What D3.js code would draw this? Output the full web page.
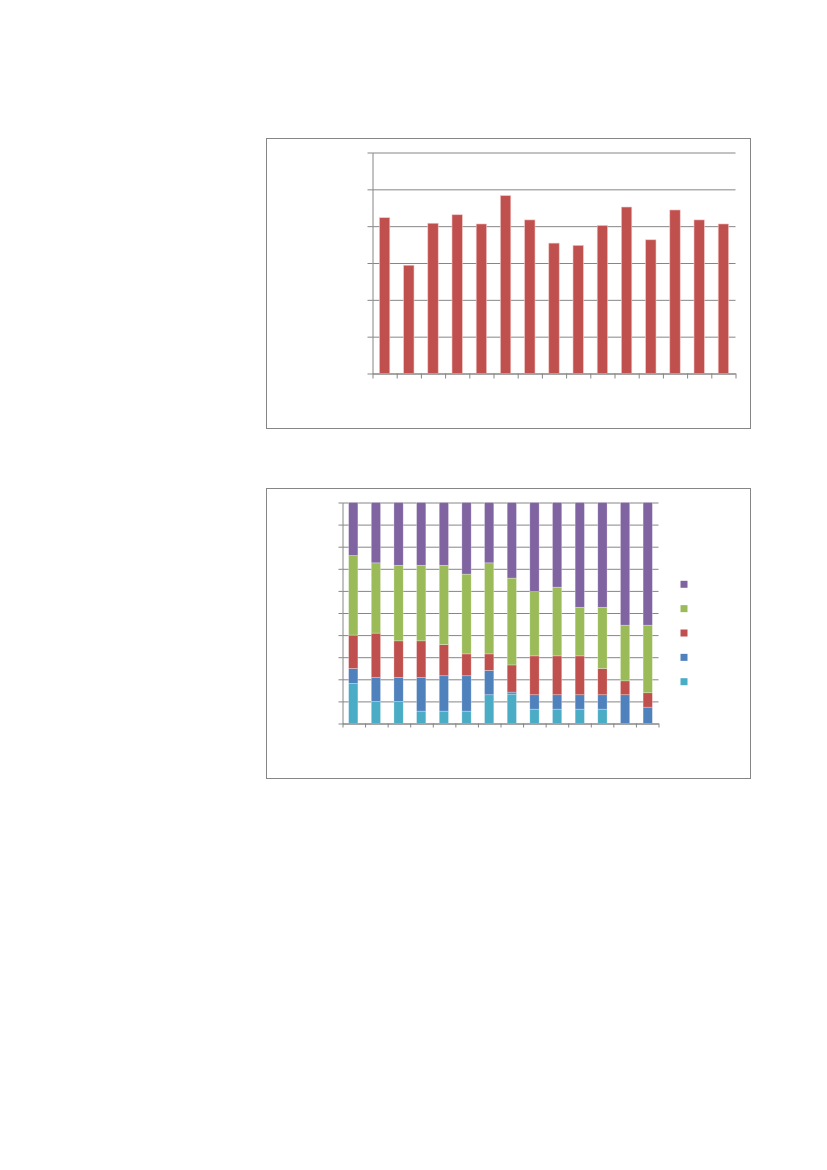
<!DOCTYPE html>
<html>
<head>
<meta charset="utf-8">
<script src="https://cdn.jsdelivr.net/npm/d3@7"></script>
<style>
  body { margin: 0; background: #fff; }
  svg { display: block; }
</style>
</head>
<body>
<div id="chart"></div>
<script>
// Chart 1: single series, 15 columns
const barCategories = d3.range(1, 16).map(String);
const barValues = [4.23, 2.94, 4.08, 4.31, 4.06, 4.83, 4.17, 3.54, 3.48, 4.02, 4.52, 3.63, 4.44, 4.17, 4.06];
const barTicks = [0, 1, 2, 3, 4, 5, 6];

// Chart 2: 100% stacked, 14 columns, bottom to top
const stackCategories = d3.range(1, 15).map(String);
const stackKeys = ["s1", "s2", "s3", "s4", "s5"];
const s1 = [18.1, 10.0, 10.0, 5.6, 5.6, 5.6, 13.0, 13.3, 6.5, 6.5, 6.5, 6.5, 0, 0];
const s2 = [6.8, 10.8, 10.8, 15.2, 16.0, 16.0, 11.0, 0.9, 6.5, 6.5, 6.5, 6.5, 13.0, 7.4];
const s3 = [15.1, 20.1, 16.6, 16.6, 14.1, 9.9, 7.5, 12.3, 17.6, 17.6, 17.6, 11.9, 6.3, 6.5];
const s4 = [36.0, 31.8, 34.2, 34.2, 35.9, 36.1, 41.2, 39.3, 29.1, 31.1, 22.0, 27.7, 25.2, 30.6];
const s5 = [24.0, 27.3, 28.4, 28.4, 28.4, 32.4, 27.3, 34.2, 40.3, 38.3, 47.4, 47.4, 55.5, 55.5];
const stackColors = ["#4BACC6", "#4F81BD", "#C0504D", "#9BBB59", "#8064A2"];

const width = 827, height = 1170;
const gridColor = "#868686";

const svg = d3.select("#chart").append("svg")
  .attr("width", width)
  .attr("height", height);

// outer chart frames
[[266.5, 138.5], [266.5, 488.5]].forEach(([fx, fy]) => {
  svg.append("rect")
    .attr("x", fx).attr("y", fy)
    .attr("width", 484).attr("height", 290)
    .attr("fill", "#fff")
    .attr("stroke", gridColor)
    .attr("stroke-width", 1);
});

// ---------- chart 1 ----------
{
  const left = 372.5, right = 735.5, top = 152.5, bottom = 373.5;
  const g = svg.append("g");

  const x = d3.scaleBand().domain(barCategories).range([left, right]).paddingInner(0.57).paddingOuter(0.285);
  const xEdge = d3.scaleLinear().domain([0, barCategories.length]).range([left, right]);
  const y = d3.scaleLinear().domain([0, 6]).range([bottom, top]);

  // gridlines
  g.append("g")
    .attr("transform", `translate(${left},0)`)
    .call(d3.axisLeft(y).tickValues(barTicks).tickSize(-(right - left)).tickFormat(""))
    .call(a => a.select(".domain").remove())
    .call(a => a.selectAll("line").attr("stroke", gridColor));
  // y ticks
  g.append("g")
    .attr("transform", `translate(${left},0)`)
    .call(d3.axisLeft(y).tickValues(barTicks).tickSize(5).tickSizeOuter(0).tickFormat(""))
    .call(a => a.selectAll("line,path").attr("stroke", gridColor));

  g.selectAll("rect.bar")
    .data(barValues)
    .join("rect")
    .attr("class", "bar")
    .attr("x", (d, i) => x(barCategories[i]))
    .attr("width", x.bandwidth())
    .attr("y", d => y(d))
    .attr("height", d => y(0) - y(d))
    .attr("fill", "#C0504D")
    .attr("stroke", "#f2c9c8")
    .attr("stroke-width", 0.6);

  g.append("g")
    .attr("transform", `translate(0,${bottom})`)
    .call(d3.axisBottom(xEdge).tickValues(d3.range(barCategories.length + 1)).tickSize(5).tickSizeOuter(0).tickFormat(""))
    .call(a => a.selectAll("line,path").attr("stroke", gridColor));
}

// ---------- chart 2 ----------
{
  const left = 342.5, right = 658.5, top = 502.5, bottom = 723.5;
  const g = svg.append("g");

  const rows = stackCategories.map((c, i) => ({
    cat: c, s1: s1[i], s2: s2[i], s3: s3[i], s4: s4[i], s5: s5[i]
  }));
  const series = d3.stack().keys(stackKeys).offset(d3.stackOffsetExpand)(rows);

  const x = d3.scaleBand().domain(stackCategories).range([left, right]).paddingInner(0.59).paddingOuter(0.27);
  const xEdge = d3.scaleLinear().domain([0, stackCategories.length]).range([left, right]);
  const y = d3.scaleLinear().domain([0, 1]).range([bottom, top]);
  const yTicks = d3.range(0, 1.0001, 0.1);

  g.append("g")
    .attr("transform", `translate(${left},0)`)
    .call(d3.axisLeft(y).tickValues(yTicks).tickSize(-(right - left)).tickFormat(""))
    .call(a => a.select(".domain").remove())
    .call(a => a.selectAll("line").attr("stroke", gridColor));
  g.append("g")
    .attr("transform", `translate(${left},0)`)
    .call(d3.axisLeft(y).tickValues(yTicks).tickSize(4).tickSizeOuter(0).tickFormat(""))
    .call(a => a.selectAll("line,path").attr("stroke", gridColor));

  g.selectAll("g.layer")
    .data(series)
    .join("g")
    .attr("class", "layer")
    .attr("fill", (d, i) => stackColors[i])
    .selectAll("rect")
    .data(d => d)
    .join("rect")
    .attr("x", d => x(d.data.cat))
    .attr("width", x.bandwidth())
    .attr("y", d => y(d[1]))
    .attr("height", d => Math.max(0, y(d[0]) - y(d[1])))
    .attr("stroke", "#ffffff")
    .attr("stroke-opacity", 0.45)
    .attr("stroke-width", 0.6);

  g.append("g")
    .attr("transform", `translate(0,${bottom})`)
    .call(d3.axisBottom(xEdge).tickValues(d3.range(stackCategories.length + 1)).tickSize(4).tickSizeOuter(0).tickFormat(""))
    .call(a => a.selectAll("line,path").attr("stroke", gridColor));

  // legend (top item is last series)
  const legendKeys = stackKeys.slice().reverse();
  const ly = d3.scalePoint().domain(legendKeys).range([584.3, 681.7]);
  g.selectAll("rect.legend")
    .data(legendKeys)
    .join("rect")
    .attr("class", "legend")
    .attr("x", 680.5)
    .attr("y", d => ly(d) - 3.5)
    .attr("width", 7)
    .attr("height", 7)
    .attr("fill", d => stackColors[stackKeys.indexOf(d)]);
}
</script>
</body>
</html>
